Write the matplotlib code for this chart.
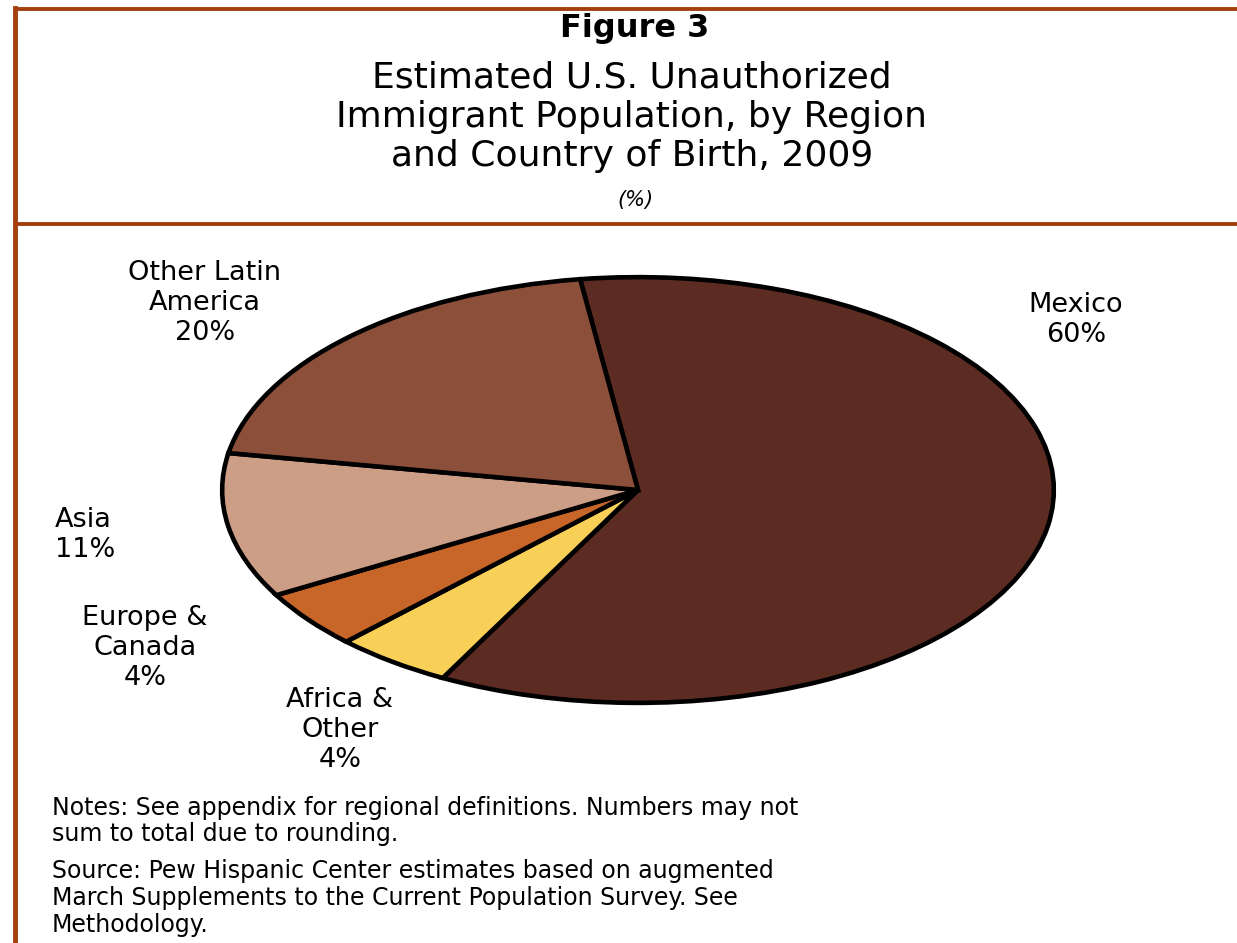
import matplotlib
matplotlib.use("Agg")
import matplotlib.pyplot as plt
from matplotlib.lines import Line2D

W, H = 1237, 943

# Data (shares; displayed labels as printed)
categories = ["Mexico", "Africa &\nOther", "Europe &\nCanada", "Asia", "Other Latin\nAmerica"]
shares = [60, 4.6, 4.4, 11, 20]
label_pct = ["60%", "4%", "4%", "11%", "20%"]
colors = ["#5C2C23", "#F8D057", "#C76628", "#CC9E86", "#8C503A"]

plt.rcParams['font.family'] = ['DejaVu Sans']
fig = plt.figure(figsize=(W / 100, H / 100), dpi=100)

def fx(x):
    return x / W

def fy(y):
    return 1 - y / H

# Frame lines
frame_col = "#A2410F"
fig.add_artist(Line2D([fx(15), fx(15)], [fy(8), fy(943)], color=frame_col, lw=3.5))
fig.add_artist(Line2D([fx(15), fx(1237)], [fy(8.5), fy(8.5)], color=frame_col, lw=2.8))
fig.add_artist(Line2D([fx(15), fx(1237)], [fy(223.5), fy(223.5)], color=frame_col, lw=2.8))

# Titles
fig.text(fx(635), fy(29), "Figure 3", ha="center", va="center", fontsize=23, fontweight="bold")
title_lines = ["Estimated U.S. Unauthorized", "Immigrant Population, by Region", "and Country of Birth, 2009"]
for i, t in enumerate(title_lines):
    fig.text(fx(632), fy(78 + i * 39), t, ha="center", va="center", fontsize=26)
fig.text(fx(635), fy(200), "(%)", ha="center", va="center", fontsize=15, style="italic")

# Pie as ellipse
cx, cy, rx, ry = 638, 490, 420, 215
ax = fig.add_axes([fx(cx - rx), fy(cy + ry), 2 * rx / W, 2 * ry / H])
ax.pie(shares, colors=colors, startangle=98, counterclock=False,
       wedgeprops=dict(edgecolor="black", linewidth=3.3, joinstyle="miter"))
ax.set_aspect("auto")
ax.set_xlim(-1.01, 1.01)
ax.set_ylim(-1.01, 1.01)
ax.axis("off")

# Labels (each line placed separately)
lab_fs = 19.5
label_pos = [(1076, 305, "center"), (340, 700, "center"), (145, 618, "center"),
             (55, 520, "left"), (205, 273, "center")]
for cat, pct, (x, y, ha) in zip(categories, label_pct, label_pos):
    lines = cat.split("\n") + [pct]
    for j, ln in enumerate(lines):
        fig.text(fx(x), fy(y + j * 30), ln, ha=ha, va="center", fontsize=lab_fs)

# Notes
notes = [
    (808, "Notes: See appendix for regional definitions. Numbers may not"),
    (834, "sum to total due to rounding."),
    (871, "Source: Pew Hispanic Center estimates based on augmented"),
    (898, "March Supplements to the Current Population Survey. See"),
    (925, "Methodology."),
]
for y, t in notes:
    fig.text(fx(52), fy(y), t, ha="left", va="center", fontsize=17)

fig.savefig("out.png", dpi=100)
